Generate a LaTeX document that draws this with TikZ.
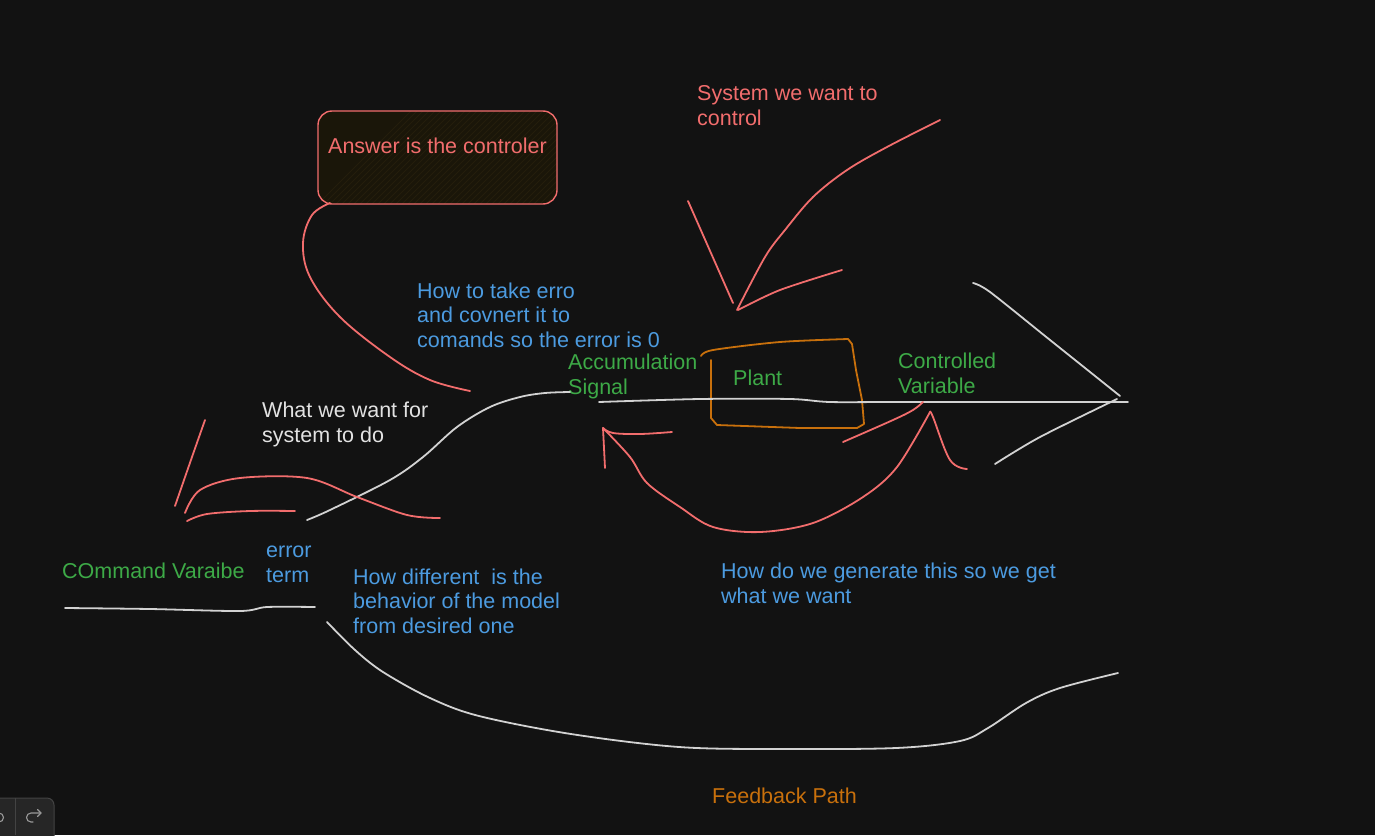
\documentclass[tikz,border=0pt]{standalone}
\usepackage{fontspec}
\setmainfont{Liberation Sans}
\definecolor{bg}{HTML}{121212}
\definecolor{cred}{HTML}{F26D6D}
\definecolor{cblue}{HTML}{4C9BE0}
\definecolor{cgreen}{HTML}{3DAA47}
\definecolor{corange}{HTML}{C8700C}
\definecolor{cwhite}{HTML}{D2D2D2}
\definecolor{ctext}{HTML}{E2E2E2}
\definecolor{boxfill}{HTML}{1A1609}
\definecolor{hatch}{HTML}{241E0C}
\begin{document}
\begin{tikzpicture}[x=1pt,y=-1pt,
  stroke/.style={line width=1.8pt, line cap=round, line join=round},
  redline/.style={stroke, draw=cred},
  whiteline/.style={stroke, draw=cwhite},
  orangeline/.style={stroke, draw=corange},
  txt/.style={anchor=base west, inner sep=0pt, align=left,
    font=\fontsize{21.5}{24.5}\selectfont},
  redtxt/.style={txt, text=cred},
  bluetxt/.style={txt, text=cblue},
  greentxt/.style={txt, text=cgreen},
  whitetxt/.style={txt, text=ctext},
  orangetxt/.style={txt, text=corange},
  icon/.style={draw=gray!80, line width=1.1pt, line cap=round, line join=round}]
\fill[bg] (0,0) rectangle (1375,835);
\useasboundingbox (0,0) rectangle (1375,835);
\clip (0,0) rectangle (1375,835);

% ---- controller box
\begin{scope}
  \clip[rounded corners=14pt] (318,111) rectangle (557,204);
  \fill[boxfill] (318,111) rectangle (557,204);
  \foreach \k in {0,6,...,350} {
    \draw[hatch, line width=0.8pt] (318+\k,204) -- ++(100,-100);
  }
\end{scope}
\node[draw=cred, line width=1.4pt, rounded corners=14pt,
      minimum width=239pt, minimum height=93pt, inner sep=0pt]
      (ctrlbox) at (437.5,157.5) {};
\node[redtxt, anchor=base] (ctrltxt) at (437.5,153) {Answer is the controler};
\draw[redline] plot[smooth, tension=0.6] coordinates {(330,203) (312,215) (303,243) (310,277) (340,317) (390,357) (430,380) (470,391)};

% ---- system we want to control (base = last line)
\node[redtxt] (systxt) at (697,125) {System we want to\\control};
\draw[redline] plot[smooth, tension=0.55] coordinates {(940,120) (887,147) (847,170) (813,197) (785,230) (765,257) (737,310)};
\draw[redline] (688,201) -- (733,303);
\draw[redline] plot[smooth, tension=0.5] coordinates {(738,310) (780,290) (842,270)};

% ---- how to take error
\node[bluetxt] (howtake) at (417,347) {How to take erro\\and covnert it to\\comands so the error is 0};
\node[greentxt] (accum) at (568,394) {Accumulation\\Signal};

% ---- plant
\draw[orangeline] plot[smooth, tension=0.5] coordinates {(701,356) (713,350) (780,342) (848,339)}
  -- (852,344) -- (856,370) -- (862,400) -- (864,424) -- (857,428) -- (800,428) -- (717,425) -- (711,418) -- (711,360);
\node[greentxt] (plant) at (733,385) {Plant};
\node[greentxt] (ctrlvar) at (898,393) {Controlled\\Variable};

% ---- main forward line
\draw[whiteline] plot[smooth, tension=0.5] coordinates {(599,402) (700,399) (790,399) (830,402) (900,402) (1128,402)};
\draw[whiteline] plot[smooth, tension=0.5] coordinates {(973,283) (990,292) (1050,340) (1120,396)};
\draw[whiteline] plot[smooth, tension=0.5] coordinates {(995,464) (1040,437) (1117,399)};

% ---- red marks near controlled variable
\draw[redline] plot[smooth, tension=0.6] coordinates {(923,402) (913,410) (893,420) (843,442)};
\draw[redline] plot[smooth, tension=0.55] coordinates {(930,412) (897,467) (863,497) (813,523) (760,532) (713,527) (680,507) (647,483) (630,457) (603,428)};
\draw[redline] plot[smooth, tension=0.6] coordinates {(930,412) (933,417) (950,460) (967,469)};
\draw[redline] (603,428) -- (605,468);
\draw[redline] plot[smooth, tension=0.6] coordinates {(603,428) (613,433) (640,434) (672,432)};

% ---- input curve
\draw[whiteline] plot[smooth, tension=0.55] coordinates {(307,520) (330,510) (390,480) (423,457) (457,427) (490,407) (520,397) (545,393) (570,392)};
\node[whitetxt] (wantdo) at (262,442) {What we want for\\system to do};

% ---- left red marks
\draw[redline] plot[smooth, tension=0.5] coordinates {(205,420) (192,457) (175,506)};
\draw[redline] plot[smooth, tension=0.55] coordinates {(185,513) (200,490) (240,478) (307,478) (357,497) (407,515) (440,518)};
\draw[redline] plot[smooth, tension=0.55] coordinates {(187,521) (207,514) (250,511) (295,511)};

% ---- command input
\draw[whiteline] plot[smooth, tension=0.5] coordinates {(65,608) (150,609) (240,611) (267,607) (315,607)};
\node[greentxt] (cmdvar) at (62,578) {COmmand Varaibe};
\node[bluetxt] (errterm) at (266,582) {error\\term};
\node[bluetxt] (howdiff) at (353,633) {How different\ \ is the\\behavior of the model\\from desired one};
\node[bluetxt] (howgen) at (721,603) {How do we generate this so we get\\what we want};

% ---- feedback path
\draw[whiteline] plot[smooth, tension=0.55] coordinates {(327,622) (355,650) (383,672) (430,698) (479,716) (571,734) (679,747) (780,749) (896,748) (960,741) (988,728) (1026,703) (1060,688) (1118,673)};
\node[orangetxt] (fbtxt) at (712,803) {Feedback Path};

% ---- toolbar fragment (undo / redo)
\draw[draw=gray!45!bg, fill=black!85!white, line width=1pt, rounded corners=7pt] (-20,798) rectangle (54,850);
\draw[draw=gray!45!bg, line width=1pt] (15,798) -- (15,835);
\draw[icon] (41,813) -- (31,813) arc[start angle=-90, end angle=-270, radius=4.5] -- (33,822);
\draw[icon] (37.5,809.5) -- (41,813) -- (37.5,816.5);
\draw[icon] (-1,813) arc[start angle=-90, end angle=90, radius=4.5] -- (-4,822);
\end{tikzpicture}
\end{document}
